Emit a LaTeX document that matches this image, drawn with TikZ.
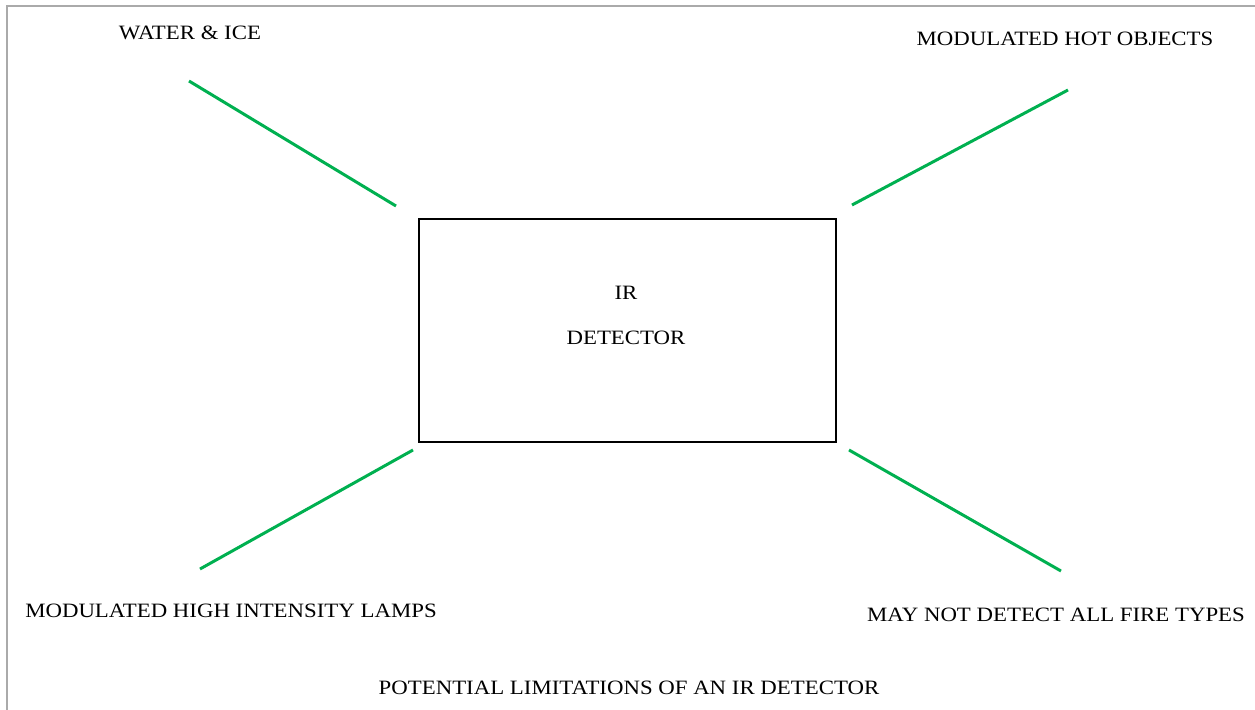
\documentclass[tikz,border=0pt]{standalone}
\usepackage{fontspec}
\setmainfont[FakeStretch=1.12]{Liberation Serif}
\definecolor{ggreen}{RGB}{0,176,80}
\definecolor{frame}{RGB}{170,170,170}
\tikzset{
  lbl/.style={inner sep=0pt, font=\fontsize{11.6}{14}\selectfont},
  limit/.style={draw=ggreen, line width=1.7pt},
  boxstyle/.style={draw=black, line width=0.8pt, minimum width=417*0.02cm, minimum height=223*0.02cm, inner sep=0pt},
}
\begin{document}
\begin{tikzpicture}[x=0.02cm,y=-0.02cm]
\useasboundingbox (0,0) rectangle (1255,710);
\draw[frame, line width=1.1pt] (7,710) -- (7,6) -- (1255,6);
% detector box
\node[boxstyle] (det) at (627.5,330.5) {};
\node[lbl] (ir) at (626,293) {IR};
\node[lbl] (dt) at (626,338) {DETECTOR};
% labels
\node[lbl] (water) at (190,33) {WATER \& ICE};
\node[lbl] (hot) at (1065,39) {MODULATED HOT OBJECTS};
\node[lbl] (lamps) at (231,611) {MODULATED HIGH INTENSITY LAMPS};
\node[lbl] (fire) at (1056,615) {MAY NOT DETECT ALL FIRE TYPES};
\node[lbl] (title) at (629,688) {POTENTIAL LIMITATIONS OF AN IR DETECTOR};
% line endpoints
\coordinate (a1) at (189,81);  \coordinate (a2) at (396,206);
\coordinate (b1) at (852,205); \coordinate (b2) at (1068,90);
\coordinate (c1) at (413,450); \coordinate (c2) at (200,569);
\coordinate (d1) at (849,450); \coordinate (d2) at (1061,571);
\draw[limit] (a1) -- (a2);
\draw[limit] (b1) -- (b2);
\draw[limit] (c1) -- (c2);
\draw[limit] (d1) -- (d2);
\end{tikzpicture}
\end{document}
